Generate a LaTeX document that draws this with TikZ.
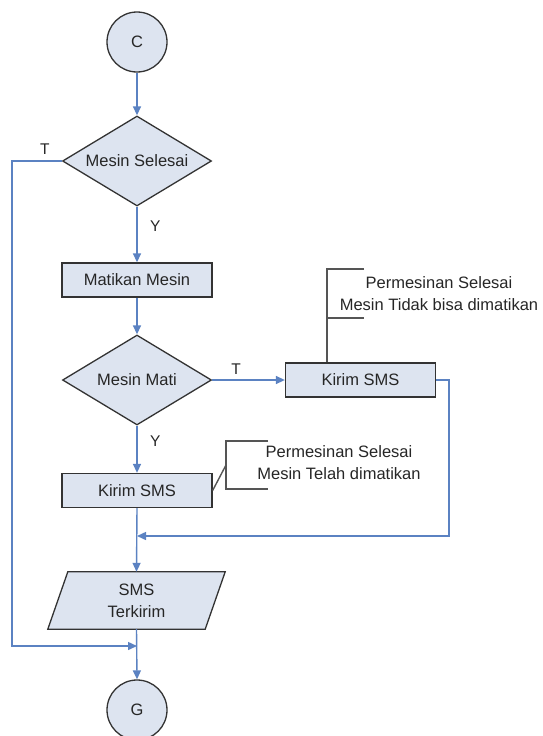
\documentclass[tikz,border=0pt]{standalone}
\usepackage{fontspec}
\setmainfont{Liberation Sans}
\usetikzlibrary{shapes.geometric,arrows.meta,calc}
\definecolor{boxfill}{HTML}{DDE4F0}
\definecolor{flow}{HTML}{5B82C2}
\definecolor{edge}{HTML}{333333}
\definecolor{note}{HTML}{555555}
\begin{document}
\begin{tikzpicture}[x=1pt,y=-1pt,
  every node/.style={font=\fontsize{16.5}{22}\selectfont, text=black!85},
  shapebase/.style={draw=edge, fill=boxfill, line width=1.3pt, inner sep=0pt},
  term/.style={shapebase, circle, minimum size=60pt},
  decision/.style={shapebase, diamond, aspect=1.7, minimum width=149pt, minimum height=90pt},
  process/.style={shapebase, rectangle, minimum width=150pt, minimum height=34pt},
  flowline/.style={draw=flow, line width=1.4pt},
  arrow/.style={flowline, -{Triangle[length=9pt,width=8pt]}},
  notebrk/.style={draw=note, line width=1.4pt},
  lbl/.style={font=\fontsize{15.5}{18}\selectfont}]
\useasboundingbox (0,0) rectangle (542,736);

\node[term] (C) at (137,42) {C};
\node[decision] (d1) at (137,161) {Mesin Selesai};
\node[process] (m) at (137,280) {Matikan Mesin};
\node[decision] (d2) at (137,380) {Mesin Mati};
\node[process] (k2) at (360.5,380) {Kirim SMS};
\node[process] (k1) at (137,490.5) {Kirim SMS};
\node[minimum width=177pt, minimum height=57pt, inner sep=0pt] (out) at (136.5,600.5) {};
\draw[shapebase] ($(out.north west)+(20,0)$) -- (out.north east) -- ($(out.south east)-(20,0)$) -- (out.south west) -- cycle;
\node[align=center] (outt) at (out.center) {SMS\\Terkirim};
\node[term] (G) at (137,710) {G};

\coordinate (j1) at (137,536);
\coordinate (j2) at (137,646);

\draw[arrow] (C) -- (d1.north);
\draw[arrow] (d1.south) -- node[lbl, right, xshift=9pt, pos=0.35] (y1) {Y} (m.north);
\draw[arrow] (m.south) -- (d2.north);
\draw[arrow] (d2.east) -- node[lbl, above, pos=0.33, yshift=1pt] (t2) {T} (k2.west);
\draw[arrow] (d2.south) -- node[lbl, right, xshift=9pt, pos=0.33] (y2) {Y} (k1.north);
\draw[arrow] (k1.south) -- (out.north);
\draw[arrow] (k2.east) -- ++(13,0) |- (j1);
\draw[arrow] (out.south) -- (G.north);
\draw[arrow] (d1.west) -- ++(-50,0) coordinate (tl) |- (j2);
\node[lbl, above] (t1) at ($(tl)+(33,-3)$) {T};

% annotation 1
\node[align=center] (a1) at (439,294) {Permesinan Selesai\\Mesin Tidak bisa dimatikan};
\draw[notebrk] (364,269) -- (327,269) -- (327,318) -- (364,318);
\draw[notebrk] (327,318) -- (k2.north -| 327,0);

% annotation 2
\node[align=center] (a2) at (339,463) {Permesinan Selesai\\Mesin Telah dimatikan};
\draw[notebrk] (268,441) -- (226,441) -- (226,489) -- (268,489);
\draw[notebrk] (k1.east) -- (226,465);
\end{tikzpicture}
\end{document}
